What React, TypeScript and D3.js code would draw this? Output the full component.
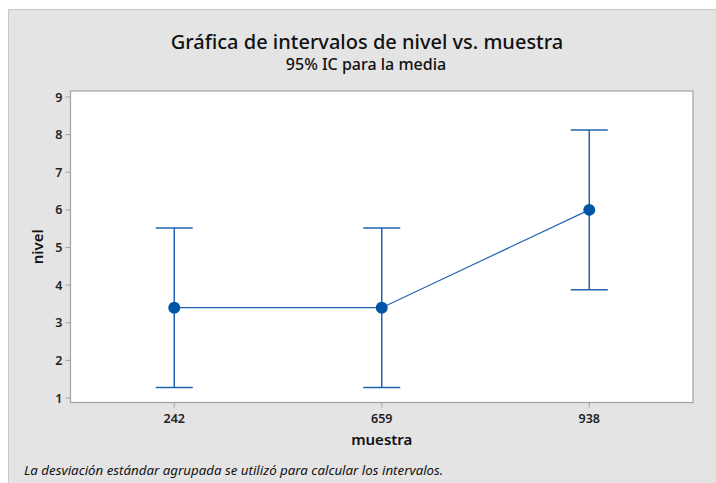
import React from 'react';
import * as d3 from 'd3';

// sample groups and their 95% CI for the mean (pooled std dev)
const muestras = ['242', '659', '938'];
const medias = [3.4, 3.4, 6.0];
const inferior = [1.28, 1.28, 3.88];
const superior = [5.52, 5.52, 8.12];
const yTicks = [1, 2, 3, 4, 5, 6, 7, 8, 9];

const W = 716, H = 483;
const plot = { left: 70.5, right: 693, top: 91, bottom: 402.5 };
const FONT = '"Noto Sans", "Open Sans", sans-serif';
const BLUE = '#0054a6';
const BAR = '#2163b3';

const App: React.FC = () => {
  const x = d3.scalePoint<string>()
    .domain(muestras)
    .range([plot.left, plot.right])
    .padding(0.5);

  // 9 -> 97px, 1 -> 398px
  const y = d3.scaleLinear().domain([1, 9]).range([398, 97]);

  const line = d3.line<number>()
    .x((_, i) => x(muestras[i])!)
    .y((d) => y(d));

  const capHalf = 18.5;

  return (
    <div style={{ position: 'absolute', left: 0, top: 0 }}>
      <svg width={W} height={H} style={{ display: 'block', fontFamily: FONT }}>
        <rect x={0} y={0} width={W} height={H} fill="#fff" />
        {/* outer gray panel */}
        <rect x={8.5} y={9.5} width={W} height={H} fill="#e4e4e4" stroke="#c9c9c9" />

        {/* titles */}
        <text x={367} y={48.5} textAnchor="middle" fontSize={20} fontWeight={500} fill="#111">
          Gráfica de intervalos de nivel vs. muestra
        </text>
        <text x={366} y={69.5} textAnchor="middle" fontSize={16} fontWeight={500} fill="#111">
          95% IC para la media
        </text>

        {/* data region */}
        <rect
          x={plot.left}
          y={plot.top}
          width={plot.right - plot.left}
          height={plot.bottom - plot.top}
          fill="#fff"
          stroke="#a3a3a3"
          strokeWidth={1.2}
        />

        {/* y axis */}
        {yTicks.map((t) => (
          <g key={t}>
            <line x1={plot.left - 5} x2={plot.left} y1={y(t)} y2={y(t)} stroke="#a3a3a3" />
            <text x={plot.left - 8} y={y(t)} dy="0.36em" textAnchor="end" fontSize={12.5} fontWeight={600} fill="#222">
              {t}
            </text>
          </g>
        ))}
        <text
          transform={`translate(43,${(plot.top + plot.bottom) / 2}) rotate(-90)`}
          textAnchor="middle"
          fontSize={15}
          fontWeight={600}
          fill="#111"
        >
          nivel
        </text>

        {/* x axis */}
        {muestras.map((m) => (
          <g key={m}>
            <line x1={x(m)!} x2={x(m)!} y1={plot.bottom} y2={plot.bottom + 5} stroke="#a3a3a3" />
            <text x={x(m)!} y={423} textAnchor="middle" fontSize={12.5} fontWeight={600} fill="#222">
              {m}
            </text>
          </g>
        ))}
        <text x={(plot.left + plot.right) / 2} y={445} textAnchor="middle" fontSize={15} fontWeight={600} fill="#111">
          muestra
        </text>

        {/* interval bars */}
        {muestras.map((m, i) => {
          const cx = x(m)!;
          return (
            <g key={m} stroke={BAR} strokeWidth={1.5}>
              <line x1={cx} x2={cx} y1={y(superior[i])} y2={y(inferior[i])} />
              <line x1={cx - capHalf} x2={cx + capHalf} y1={y(superior[i])} y2={y(superior[i])} />
              <line x1={cx - capHalf} x2={cx + capHalf} y1={y(inferior[i])} y2={y(inferior[i])} />
            </g>
          );
        })}

        {/* means connect line */}
        <path d={line(medias)!} fill="none" stroke={BAR} strokeWidth={1.2} />
        {medias.map((v, i) => (
          <circle key={i} cx={x(muestras[i])!} cy={y(v)} r={6} fill={BLUE} />
        ))}

        {/* footnote */}
        <text x={24} y={475} fontSize={13.3} fontStyle="italic" fill="#111">
          La desviación estándar agrupada se utilizó para calcular los intervalos.
        </text>
      </svg>
    </div>
  );
};

export default App;
